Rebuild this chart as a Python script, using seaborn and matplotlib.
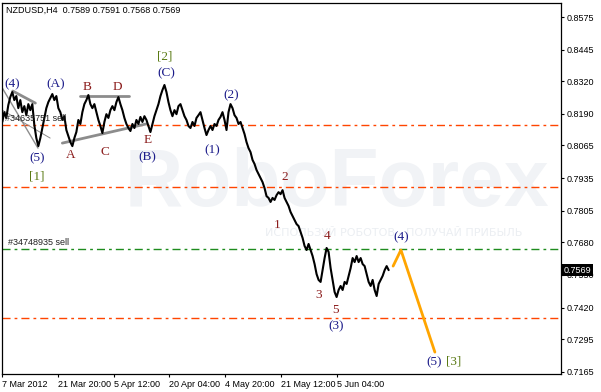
import numpy as np
import pandas as pd
import matplotlib
matplotlib.use("Agg")
import matplotlib.pyplot as plt
import matplotlib.transforms as mtransforms
import seaborn as sns

# ---------------- data ----------------
header = "NZDUSD,H4  0.7589 0.7591 0.7568 0.7569"

# sampled closes (one value every BAR_STEP H4 bars)
close = [
    0.8158, 0.8197, 0.8174, 0.8225, 0.8257, 0.8277, 0.8245, 0.8261, 0.8213, 0.8245,
    0.8197, 0.8221, 0.8185, 0.8229, 0.8205, 0.8229, 0.8146, 0.8094, 0.8062, 0.8094,
    0.8134, 0.8174, 0.8213, 0.8237, 0.8253, 0.8269, 0.8245, 0.8261, 0.8213, 0.8197,
    0.8166, 0.8181, 0.8126, 0.8102, 0.8078, 0.8062, 0.8094, 0.8118, 0.8166, 0.8150,
    0.8197, 0.8229, 0.8245, 0.8265, 0.8229, 0.8213, 0.8229, 0.8197, 0.8166, 0.8142,
    0.8114, 0.8158, 0.8189, 0.8174, 0.8205, 0.8221, 0.8205, 0.8237, 0.8257, 0.8229,
    0.8205, 0.8174, 0.8150, 0.8134, 0.8122, 0.8150, 0.8134, 0.8166, 0.8150, 0.8178,
    0.8158, 0.8181, 0.8166, 0.8142, 0.8118, 0.8150, 0.8181, 0.8205, 0.8229, 0.8261,
    0.8285, 0.8305, 0.8277, 0.8237, 0.8205, 0.8181, 0.8205, 0.8189, 0.8221, 0.8229,
    0.8205, 0.8181, 0.8166, 0.8142, 0.8134, 0.8158, 0.8142, 0.8174, 0.8185, 0.8197,
    0.8166, 0.8134, 0.8106, 0.8126, 0.8142, 0.8126, 0.8150, 0.8142, 0.8166, 0.8178,
    0.8197, 0.8166, 0.8126, 0.8197, 0.8229, 0.8213, 0.8185, 0.8174, 0.8150, 0.8158,
    0.8134, 0.8110, 0.8078, 0.8054, 0.8038, 0.8007, 0.7991, 0.7967, 0.7951, 0.7935,
    0.7919, 0.7895, 0.7863, 0.7856, 0.7840, 0.7856, 0.7848, 0.7867, 0.7879, 0.7871,
    0.7887, 0.7856, 0.7840, 0.7824, 0.7800, 0.7784, 0.7768, 0.7752, 0.7744, 0.7720,
    0.7697, 0.7665, 0.7649, 0.7673, 0.7649, 0.7625, 0.7593, 0.7553, 0.7530, 0.7522,
    0.7569, 0.7617, 0.7657, 0.7641, 0.7577, 0.7530, 0.7482, 0.7462, 0.7490, 0.7506,
    0.7490, 0.7522, 0.7514, 0.7546, 0.7577, 0.7617, 0.7601, 0.7625, 0.7601, 0.7617,
    0.7593, 0.7585, 0.7553, 0.7522, 0.7506, 0.7530, 0.7490, 0.7466, 0.7514, 0.7530,
    0.7546, 0.7569, 0.7585, 0.7569,
]
BAR_STEP = 2.3

x_tick_bars = [0, 64, 128, 192, 256, 320, 384]
x_tick_labels = ["7 Mar 2012", "21 Mar 20:00", "5 Apr 12:00", "20 Apr 04:00",
                 "4 May 20:00", "21 May 12:00", "5 Jun 04:00"]
y_tick_values = [0.8575, 0.8445, 0.8320, 0.8190, 0.8065, 0.7935, 0.7805,
                 0.7680, 0.7550, 0.7420, 0.7295, 0.7165]
last_price = 0.7569

level_prices = [0.8145, 0.7898, 0.7653, 0.7377]
level_colors = ["#ff4500", "#ff4500", "#1e8c1e", "#ff4500"]

order_labels = ["#34635751 sell", "#34748935 sell"]
order_label_bars = [3, 7]
order_label_prices = [0.8170, 0.7677]

forecast_bars = [449, 458, 497]
forecast_prices = [0.7585, 0.7649, 0.7243]

trend_lines = [  # (bar0, price0, bar1, price1)
    (69, 0.8074, 165, 0.8150),
    (89, 0.8261, 145, 0.8261),
    (12, 0.8281, 38, 0.8233),
    (0, 0.8293, 41, 0.8054),
    (0, 0.8205, 55, 0.8094),
]
trend_widths = [2.0, 2.0, 2.0, 1.0, 0.7]

NAVY, RED, OLIVE = "#1c1c8a", "#8b1c1c", "#5a7a14"
wave_text = ["(4)", "(A)", "B", "D", "[2]", "(C)", "(2)", "(1)", "(B)", "E", "C", "A",
             "(5)", "[1]", "2", "1", "3", "4", "5", "(3)", "(4)", "(5)", "[3]"]
wave_bar = [11, 61, 97, 132, 187, 188, 263, 241, 167, 167, 118, 79,
            40, 40, 324, 316, 363, 373, 383, 383, 458, 496, 519]
wave_price = [0.8309, 0.8309, 0.8297, 0.8297, 0.8420, 0.8352, 0.8265, 0.8046, 0.8019,
              0.8086, 0.8038, 0.8026, 0.8015, 0.7943, 0.7939, 0.7748, 0.7470, 0.7704,
              0.7410, 0.7347, 0.7700, 0.7204, 0.7204]
wave_color = [NAVY, NAVY, RED, RED, OLIVE, NAVY, NAVY, NAVY, NAVY, RED, RED, RED,
              NAVY, OLIVE, RED, RED, RED, RED, RED, NAVY, NAVY, NAVY, OLIVE]

# ---------------- plot ----------------
sns.set_style("white")
plt.rcParams["font.family"] = ["DejaVu Sans"]

fig = plt.figure(figsize=(6.01, 3.92), dpi=100)
ax = fig.add_axes([2 / 601, 18 / 392, 559 / 601, 371 / 392])
ax.set_xlim(-0.34, 641.9)
ax.set_ylim(0.7156, 0.8631)

# watermark
ax.text(0.60, 0.51, "RoboForex", transform=ax.transAxes, ha="center", va="center",
        fontsize=58, fontweight="bold", color="#f1f3f6",
        family="Liberation Sans", zorder=0)
ax.text(0.70, 0.38, "ИСПОЛЬЗУЙ РОБОТОВ - ПОЛУЧАЙ ПРИБЫЛЬ", transform=ax.transAxes,
        ha="center", va="center", fontsize=8, color="#ebeef2", zorder=0)

# horizontal order levels
for p, c in zip(level_prices, level_colors):
    ax.axhline(p, color=c, lw=1.0, dashes=(5.8, 2.9, 2.0, 2.9), zorder=1)

# trend lines
for (b0, p0, b1, p1), w in zip(trend_lines, trend_widths):
    tl = pd.DataFrame({"bar": [b0, b1], "price": [p0, p1]})
    sns.lineplot(data=tl, x="bar", y="price", color="#8c8c8c", lw=w, ax=ax, zorder=2)

# price series
df = pd.DataFrame({"bar": np.arange(len(close)) * BAR_STEP, "close": close})
sns.lineplot(data=df, x="bar", y="close", color="black", lw=1.5, ax=ax, zorder=3)

# forecast
fc = pd.DataFrame({"bar": forecast_bars, "price": forecast_prices})
sns.lineplot(data=fc, x="bar", y="price", color="#ffa500", lw=2.0, ax=ax, zorder=3)

# wave labels
for s, b, p, c in zip(wave_text, wave_bar, wave_price, wave_color):
    ax.text(b, p, s, ha="center", va="center", fontsize=9.5, color=c,
            family="Liberation Serif", zorder=4)

for s, b, p in zip(order_labels, order_label_bars, order_label_prices):
    ax.text(b, p, s, ha="left", va="center", fontsize=6.5, color="#202020",
            family="Liberation Sans", zorder=4)

ax.text(0.007, 0.981, header, transform=ax.transAxes, ha="left", va="center",
        fontsize=6.5, color="black", family="Liberation Sans", zorder=5)

# axes styling
ax.set_xlabel("")
ax.set_ylabel("")
ax.yaxis.tick_right()
ax.set_yticks(y_tick_values)
ax.set_yticklabels([f"{v:.4f}" for v in y_tick_values], family="Liberation Sans")
ax.set_xticks(x_tick_bars)
ax.set_xticklabels(x_tick_labels, ha="left", family="Liberation Sans")
ax.tick_params(axis="both", direction="out", length=2.2, width=0.8, labelsize=6.5,
               pad=2, color="black", labelcolor="black")
ax.tick_params(axis="y", left=False, right=True)
ax.tick_params(axis="x", bottom=True, top=False)
for sp in ax.spines.values():
    sp.set_visible(True)
    sp.set_color("black")
    sp.set_linewidth(0.9)

trans = mtransforms.blended_transform_factory(ax.transAxes, ax.transData)
ax.text(1.0 + 3 / 559, last_price, f"{last_price:.4f}", transform=trans,
        ha="left", va="center", fontsize=6.5, color="white", family="Liberation Sans",
        bbox=dict(facecolor="black", edgecolor="none", pad=1.2), clip_on=False, zorder=10)

fig.savefig("out.png", dpi=100, facecolor="white")
